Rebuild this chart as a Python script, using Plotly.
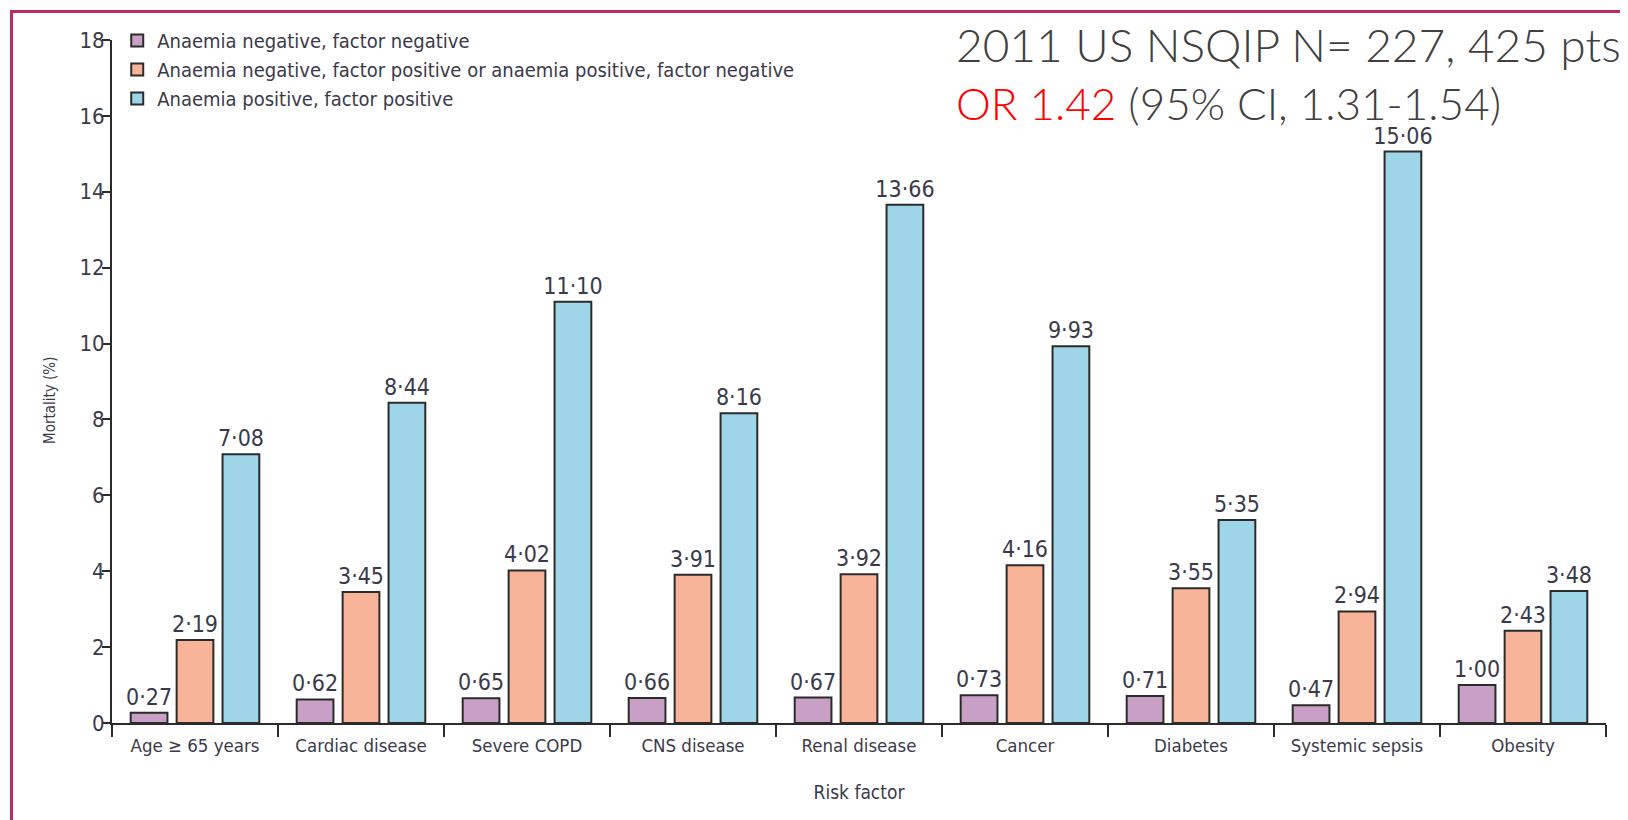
import plotly.graph_objects as go

# ── Data ────────────────────────────────────────────────────────────────────
categories = ["Age ≥ 65 years", "Cardiac disease", "Severe COPD", "CNS disease",
              "Renal disease", "Cancer", "Diabetes", "Systemic sepsis", "Obesity"]
neg_neg = [0.27, 0.62, 0.65, 0.66, 0.67, 0.73, 0.71, 0.47, 1.00]
mixed = [2.19, 3.45, 4.02, 3.91, 3.92, 4.16, 3.55, 2.94, 2.43]
pos_pos = [7.08, 8.44, 11.10, 8.16, 13.66, 9.93, 5.35, 15.06, 3.48]
series_names = ["Anaemia negative, factor negative",
                "Anaemia negative, factor positive or anaemia positive, factor negative",
                "Anaemia positive, factor positive"]
y_ticks = [0, 2, 4, 6, 8, 10, 12, 14, 16, 18]

COLORS = ["#c9a0c5", "#f8b499", "#9ed5e8"]
NARROW = "DejaVu Sans Condensed, Liberation Sans Narrow, Arial Narrow, sans-serif"
INK = "#3a3a4a"

# the page body adds an 8px offset, so the figure is sized to fit the window
OFF = 8
W, H = 1628 - OFF, 820 - OFF
ML, MR, MT, MB = 104, 22, 32, 97
PW, PH = W - ML - MR, H - MT - MB


def px_x(px):
    """page pixel x -> paper coordinate"""
    return (px - OFF - ML) / PW


def px_y(py):
    """page pixel y -> paper coordinate"""
    return (H - MB - (py - OFF)) / PH


def lancet(v):
    return f"{v:.2f}".replace(".", "·")


fig = go.Figure()
for name, vals, col in zip(series_names, [neg_neg, mixed, pos_pos], COLORS):
    fig.add_trace(go.Bar(
        x=categories, y=vals, name=name,
        marker=dict(color=col, line=dict(color="#2b2b2b", width=2)),
        text=[lancet(v) for v in vals], textposition="outside",
        textfont=dict(family=NARROW, size=23, color=INK),
        constraintext="none", cliponaxis=False,
    ))

axis_common = dict(showline=True, linecolor="#2b2b2b", linewidth=2,
                   ticks="outside", tickcolor="#2b2b2b", tickwidth=2,
                   showgrid=False, zeroline=False, automargin=False)

fig.update_layout(
    template="none",
    width=W, height=H,
    margin=dict(l=ML, r=MR, t=MT, b=MB, autoexpand=False),
    paper_bgcolor="white", plot_bgcolor="white",
    barmode="group", bargap=0.17, bargroupgap=0.2,
    font=dict(family=NARROW, color=INK),
    xaxis=dict(**axis_common, tickson="boundaries", ticklen=12, ticklabelstandoff=5,
               tickfont=dict(family=NARROW, size=18.5, color=INK),
               title=dict(text="Risk factor", font=dict(family=NARROW, size=19, color=INK),
                          standoff=30)),
    yaxis=dict(**axis_common, range=[0, 18], tickvals=y_ticks, ticklen=8,
               ticklabelstandoff=-7,
               tickfont=dict(family=NARROW, size=22, color=INK)),
    legend=dict(x=0.0035, y=1.028, xanchor="left", yanchor="top",
                bgcolor="rgba(0,0,0,0)", font=dict(family=NARROW, size=20, color=INK),
                itemwidth=30, tracegroupgap=2),
    showlegend=True,
)

# y-axis title, placed a little below the middle as in the original
fig.add_annotation(
    xref="paper", yref="paper", x=px_x(50), y=px_y(400),
    xanchor="center", yanchor="middle", showarrow=False, textangle=-90,
    text="Mortality (%)", font=dict(family=NARROW, size=15, color=INK),
)

# ── Header text (top right) ─────────────────────────────────────────────────
fig.add_annotation(
    xref="paper", yref="paper", x=px_x(954), y=px_y(44),
    xanchor="left", yanchor="middle", showarrow=False,
    text="2011 US NSQIP N= 227, 425 pts",
    font=dict(family="Lato, Open Sans, sans-serif", size=46, color="#404040", weight=300),
)
fig.add_annotation(
    xref="paper", yref="paper", x=px_x(954), y=px_y(103),
    xanchor="left", yanchor="middle", showarrow=False,
    text="<span style='color:#ff0000'>OR 1.42</span> (95% CI, 1.31-1.54)",
    font=dict(family="Lato, Open Sans, sans-serif", size=44, color="#404040", weight=300),
)

# ── Crimson frame (top and left edges) ──────────────────────────────────────
frame = dict(color="#c22a5c", width=3)
fig.add_shape(type="line", xref="paper", yref="paper",
              x0=px_x(10), x1=px_x(1628), y0=px_y(11.5), y1=px_y(11.5), line=frame)
fig.add_shape(type="line", xref="paper", yref="paper",
              x0=px_x(11.5), x1=px_x(11.5), y0=px_y(10), y1=px_y(820), line=frame)

fig.write_html("out.html")
